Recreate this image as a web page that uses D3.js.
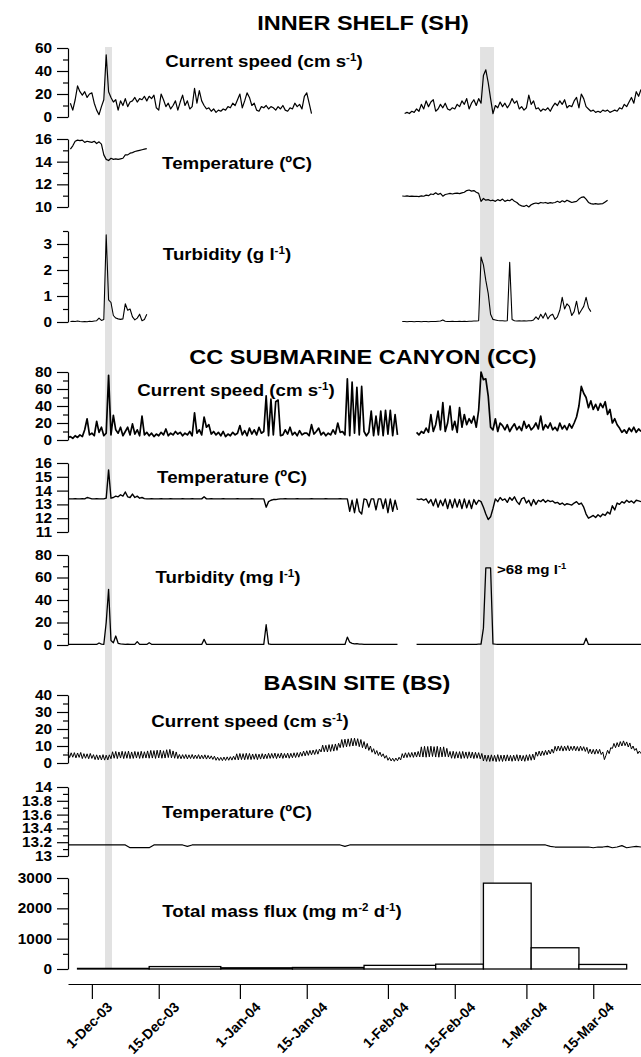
<!DOCTYPE html>
<html>
<head>
<meta charset="utf-8">
<script src="https://cdn.jsdelivr.net/npm/d3@7"></script>
<style>
  body { margin: 0; background: #fff; }
  svg { display: block; font-family: "Liberation Sans", Arial, sans-serif; font-weight: bold; }
</style>
</head>
<body>
<svg id="chart" width="641" height="1057"></svg>
<script>
// ---- sampling: start time, step in hours, then the values ----

// Inner shelf (SH)
const shSpeedA = [12,6,15,27,22,19,22,17,20,21, 12,6,2,9,15,54,22,17,13,15, 6,14,10,16,9,13,14,17,13,16,
  15,18,14,18,16,19,8,6,20,15, 9,12,7,10,14,6,13,19,10,14, 7,9,25,12,23,14,10,7,8,5,
  7,4,6,5,7,6,9,8,12,10, 15,20,8,14,21,17,10,12,6,5, 9,8,10,7,9,8,6,9,7,10, 6,5,8,7,12,9,11,7,18,21, 12,3];
const shSpeedB = [3,4,3,5,4,7,5,11,7,14, 9,13,15,5,7,11,8,12,7,6, 8,7,11,9,14,11,16,7,12,15,
  10,16,12,36,41,30,16,3,10,8, 13,9,12,8,11,16,12,14,7,9, 6,8,19,11,14,7,8,5,7,6,
  8,5,9,12,10,14,11,15,8,10, 9,14,17,8,20,16,9,7,5,6, 4,5,4,6,5,6,4,5,6,5, 8,7,11,9,13,17,12,22,18,24];
const shTempA = [15.1,15.4,15.8,15.9,15.85,15.9,15.7,15.8,15.75,15.7, 15.8,15.6,15.75,15.55,14.6,14.2,14.1,14.3,14.2,14.25,
  14.2,14.25,14.3,14.6,14.6,14.75,14.8,14.9,14.95,15.0, 15.05,15.1,15.15];
const shTempB = [10.97,10.95,10.98,10.94,10.96,10.93,10.95,10.92,10.98,10.95, 11.05,11.0,11.15,11.1,11.25,11.1,11.2,10.95,11.1,11.15,
  11.2,11.15,11.2,11.22,11.18,11.25,11.3,11.45,11.5,11.4, 11.45,11.3,11.2,10.5,10.75,10.6,10.65,10.55,10.6,10.5,
  10.65,10.55,10.7,10.5,10.6,10.55,10.7,10.5,10.4,10.2, 10.1,10.05,10.15,10.0,10.2,10.3,10.35,10.3,10.4,10.35,
  10.4,10.32,10.38,10.35,10.4,10.5,10.4,10.55,10.45,10.6, 10.5,10.4,10.45,10.5,10.7,10.85,10.9,10.7,10.4,10.3,
  10.25,10.3,10.25,10.28,10.3,10.45,10.6];
const shTurbA = [0.02,0.03,0.02,0.04,0.02,0.01,0.02,0.01,0.03,0.02, 0.04,0.05,0.15,0.06,0.1,3.35,0.85,0.75,0.25,0.15,
  0.12,0.1,0.12,0.7,0.45,0.5,0.2,0.08,0.15,0.3, 0.05,0.1,0.3];
const shTurbB = [0.02,0.02,0.01,0.02,0.02,0.01,0.02,0.02,0.01,0.02, 0.02,0.01,0.02,0.02,0.02,0.03,0.04,0.08,0.03,0.02,
  0.02,0.03,0.02,0.02,0.03,0.02,0.03,0.02,0.03,0.03, 0.04,0.04,0.05,2.5,2.2,1.6,1.1,0.3,0.1,0.08,
  0.06,0.05,0.05,0.04,0.05,2.3,0.1,0.05,0.04,0.05, 0.04,0.05,0.04,0.05,0.05,0.08,0.2,0.1,0.3,0.15,
  0.35,0.12,0.25,0.3,0.1,0.2,0.45,0.95,0.5,0.7, 0.6,0.25,0.4,0.8,0.3,0.45,0.6,0.95,0.55,0.4];

// CC submarine canyon (CC)
const ccSpeedA = [3,4,2,5,3,6,4,12,25,6, 8,5,22,9,15,5,8,76,6,29, 12,8,15,5,10,15,6,19,7,12,
  5,28,6,9,5,8,4,7,5,9, 6,13,5,8,6,10,7,9,5,8, 6,10,5,32,8,12,6,27,15,18,
  7,10,6,9,5,10,4,7,5,9, 6,8,17,6,11,5,14,7,12,6, 15,8,10,52,5,48,6,45,47,5,
  6,12,7,15,6,9,5,11,6,8, 8,5,18,7,10,14,6,9,5,8, 6,12,7,20,9,10,6,72,5,68,
  8,62,6,63,10,5,9,34,5,28, 6,34,5,35,7,35,5,30,6];
const ccSpeedB = [9,6,10,8,14,9,30,10,18,34, 12,44,10,20,40,12,22,9,38,15, 30,18,25,20,28,15,35,80,71,72,
  52,15,12,25,10,20,17,12,18,10, 15,19,12,16,11,22,14,18,12,15, 20,13,28,12,18,14,20,12,15,11,
  20,13,17,12,19,14,20,27,40,63, 55,50,38,46,36,42,35,43,38,45, 30,36,20,25,18,14,9,12,8,14, 10,15,9,13,10];
const ccTempA = [13.4,13.4,13.4,13.42,13.4,13.4,13.42,13.4,13.5,13.45, 13.4,13.4,13.42,13.4,13.4,13.4,13.45,15.5,13.45,13.5,
  13.6,13.55,13.7,13.6,13.9,13.55,13.5,13.75,13.5,13.6, 13.45,13.5,13.42,13.4,13.4,13.42,13.4,13.4,13.4,13.42,
  13.4,13.4,13.4,13.42,13.4,13.4,13.4,13.4,13.42,13.4, 13.4,13.4,13.42,13.4,13.4,13.4,13.4,13.55,13.4,13.4,
  13.42,13.4,13.4,13.4,13.4,13.42,13.4,13.4,13.4,13.4, 13.4,13.42,13.4,13.4,13.4,13.4,13.4,13.42,13.4,13.4,
  13.4,13.4,13.4,12.8,13.2,13.3,13.35,13.35,13.38,13.4, 13.4,13.42,13.4,13.4,13.4,13.4,13.42,13.4,13.4,13.4,
  13.4,13.4,13.42,13.4,13.4,13.4,13.4,13.4,13.42,13.4, 13.4,13.4,13.4,13.4,13.42,13.4,13.4,13.4,12.5,13.3,
  12.4,13.4,12.5,12.3,13.4,13.35,12.8,13.4,13.4,12.6, 13.4,13.4,12.7,13.4,12.4,13.4,12.5,13.3,12.6];
const ccTempB = [13.4,13.35,13.4,13.3,13.4,13.1,13.35,12.9,13.4,12.8, 13.3,12.9,13.4,12.7,13.35,12.75,13.4,12.8,13.35,12.7,
  13.4,12.75,13.3,12.7,13.35,13.0,13.3,13.2,12.8,12.3, 11.9,12.1,12.7,13.4,13.2,13.5,13.3,13.4,13.15,13.5,
  13.3,13.55,13.2,13.0,13.4,13.5,13.1,13.3,12.9,13.35, 13.0,13.3,13.2,13.35,13.15,13.3,13.2,13.25,13.1,13.15,
  13.0,13.1,12.95,13.05,13.0,12.95,13.1,13.2,13.0,13.1, 12.8,12.3,12.0,12.1,12.2,12.05,12.25,12.1,12.3,12.2,
  12.45,12.3,12.9,12.6,13.1,13.0,13.2,13.1,13.3,13.15, 13.25,13.1,13.3,13.25,13.2];
const ccTurbA = [0.5,0.5,0.6,0.5,0.5,0.6,0.5,0.5,0.6,0.5, 0.5,0.6,0.5,1.8,0.8,0.6,20,49.5,4,2,
  8,1.5,1,0.8,0.6,0.7,0.6,0.5,0.6,3, 0.6,0.5,0.6,0.5,2,0.6,0.5,0.6,0.5,0.6,
  0.5,0.6,0.5,0.6,0.5,0.6,0.5,0.6,0.5,0.6, 0.5,0.6,0.5,0.6,0.5,0.6,0.5,5,0.6,0.5,
  0.6,0.5,0.6,0.5,0.6,0.5,0.6,0.5,0.6,0.5, 0.6,0.5,0.6,0.5,0.6,0.5,0.6,0.5,0.6,0.5,
  0.6,0.5,0.6,18,1,0.6,0.5,0.6,0.5,0.6, 0.5,0.6,0.5,0.6,0.5,0.6,0.5,0.6,0.5,0.6,
  0.5,0.6,0.5,0.6,0.5,0.6,0.5,0.6,0.5,0.6, 0.5,0.6,0.5,0.6,0.5,0.6,0.5,7,2.5,1.5,
  1,1.2,0.8,0.7,0.6,0.5,0.6,0.5,0.6,0.5, 0.6,0.5,0.6,0.5,0.6,0.5,0.6,0.5,0.6];
const ccTurbB = [0.5,0.6,0.5,0.6,0.5,0.6,0.5,0.6,0.5,0.6, 0.5,0.6,0.5,0.6,0.5,0.6,0.5,0.6,0.5,0.6,
  0.5,0.6,0.5,0.6,0.5,0.6,0.7,0.8,15,68.5, 68.5,68.5,1,0.7,0.6,0.5,0.6,0.5,0.6,0.5,
  0.6,0.5,0.6,0.5,0.6,0.5,0.6,0.5,0.6,0.5, 0.6,0.5,0.6,0.5,0.6,0.5,0.6,0.5,0.6,0.5,
  0.6,0.5,0.6,0.5,0.6,0.5,0.6,0.5,0.6,0.5, 0.6,6,0.5,0.6,0.5,0.6,0.5,0.6,0.5,0.6,
  0.5,0.6,0.5,0.6,0.5,0.6,0.5,0.6,0.5,0.6, 0.5,0.6,0.5,0.6,0.5];

// Basin site (BS)
const bsSpeed = [6.2,3.2,6.0, 3.4,6.1,3.0, 5.9,3.3,6.2, 2.6,5.5,2.8, 5.4,2.5,5.6, 2.7,4.9,2.0, 4.8,1.9,4.6,
  1.8,4.9,1.7, 4.6,1.8,4.8, 2.5,6.6,2.8, 6.8,2.6,6.5, 2.9,6.9,2.6, 6.7,2.8,7.0, 2.6,6.5,2.7,
  6.8,2.9,6.6, 2.7,6.9,2.8, 6.6,2.9,7.1, 2.8,7.4,2.9, 7.3,2.7,7.5, 3.0,7.6,2.8, 7.2,2.9,7.8,
  3.2,8.0,3.0, 7.1,2.8,6.5, 2.6,5.0,2.5, 4.9,2.6,5.0, 2.4,4.8,2.6, 5.0,2.5,4.7, 2.6,4.9,2.4,
  4.6,2.5,4.8, 2.3,4.5,2.4, 4.2,2.1,4.0, 1.6,3.4,1.5, 3.3,1.4,3.5, 1.5,3.6,1.6, 3.7,1.7,4.0,
  1.9,5.4,1.8, 5.6,2.0,5.5, 1.9,5.7,2.1, 5.6,2.0,5.3, 2.2,5.4,2.0, 5.2,2.3,5.5, 2.4,5.3,2.6,
  5.7,2.7,5.6, 2.8,5.8,2.6, 5.5,2.9,5.9, 2.7,5.6,3.0, 5.8,2.8,5.7, 3.1,6.0,3.2, 6.1,3.4,6.3,
  4.0,7.0,4.2, 7.2,4.5,7.4, 4.8,7.6,5.0, 7.9,5.2,8.2, 6.5,10.5,6.6, 10.4,6.5,10.8, 6.8,10.9,7.0,
  11.2,7.4,11.6, 9.0,13.8,9.2, 14.0,9.5,14.2, 9.8,14.5,10.0, 14.6,10.2,14.3, 9.6,13.8,9.0, 12.6,8.2,11.5,
  7.4,10.0,6.3, 8.4,5.2,7.3, 4.4,6.4,3.8, 5.4,2.8,4.4, 1.6,3.2,1.2, 2.8,1.0,2.9, 1.3,3.4,1.8,
  5.5,3.0,6.0, 3.2,6.1,3.4, 6.2,3.3,6.4, 3.5,6.8,3.6, 9.5,3.5,9.8, 3.4,9.7,3.6, 9.9,3.8,9.6,
  3.5,9.8,3.4, 9.4,3.6,9.5, 3.7,8.6,3.5, 6.8,2.8,6.9, 2.7,6.6,2.9, 6.7,2.6,6.8, 2.8,6.5,2.7,
  6.6,2.9,6.4, 2.6,6.3,2.8, 6.1,2.4,5.6, 1.2,4.7,1.0, 4.6,0.9,4.8, 1.1,4.5,0.8, 4.9,1.0,4.6,
  0.9,4.7,1.1, 4.8,1.2,4.5, 1.0,4.6,1.3, 4.9,1.1,4.7, 1.2,4.4,1.0, 4.8,1.4,5.0, 1.6,5.2,1.9,
  6.5,4.0,7.0, 4.2,7.1,4.5, 7.4,4.8,7.6, 5.3,8.2,5.8, 9.8,7.0,10.0, 7.2,10.1,7.0, 9.9,7.3,10.2,
  7.1,9.8,7.4, 10.0,7.2,9.7, 7.0,9.9,7.3, 9.6,6.8,9.2, 5.6,8.2,5.4, 8.0,5.2,8.1, 5.5,8.0,5.0,
  6.5,2.0,4.5, 7.5,5.5,9.0, 8.5,11.5,9.0, 12.0,9.5,12.6, 10.0,13.0,10.2, 12.4,9.4,11.8, 8.2,10.0,7.4,
  8.6,5.5,7.0, 5.5];
const bsTemp = [13.16,13.16,13.16,13.16,13.16,13.16,13.16,13.16,13.16,13.16,
  13.16,13.16,13.16,13.12,13.12,13.12,13.12,13.12,13.16,13.16,
  13.16,13.16,13.16,13.16,13.16,13.14,13.16,13.16,13.16,13.16,
  13.16,13.16,13.16,13.16,13.16,13.16,13.16,13.16,13.16,13.16,
  13.16,13.16,13.16,13.16,13.16,13.16,13.16,13.16,13.16,13.16,
  13.16,13.16,13.16,13.16,13.16,13.16,13.16,13.16,13.14,13.16,
  13.16,13.16,13.16,13.16,13.16,13.16,13.16,13.16,13.16,13.16,
  13.16,13.16,13.16,13.16,13.16,13.16,13.16,13.16,13.16,13.16,
  13.16,13.16,13.16,13.16,13.16,13.16,13.16,13.16,13.16,13.16,
  13.16,13.16,13.16,13.16,13.16,13.16,13.16,13.16,13.16,13.16,
  13.16,13.14,13.13,13.13,13.13,13.13,13.13,13.13,13.13,13.13,
  13.12,13.13,13.13,13.14,13.12,13.13,13.15,13.12,13.13,13.14, 13.13];

// sediment trap: sampling interval edges and total mass flux (mg m-2 d-1)
const fluxEdges = ["2003-11-28", "2003-12-13", "2003-12-28", "2004-01-12", "2004-01-27",
  "2004-02-11", "2004-02-21", "2004-03-02", "2004-03-12", "2004-03-22"];
const fluxValues = [20, 80, 40, 50, 120, 160, 2830, 700, 150];

// storm events (shaded)
const eventStart = ["2003-12-03T18:00", "2004-02-20T07:00"];
const eventEnd = ["2003-12-05T05:00", "2004-02-23T05:00"];

// axis ticks
const dateTicks = ["2003-12-01", "2003-12-15", "2004-01-01", "2004-01-15", "2004-02-01", "2004-02-15", "2004-03-01", "2004-03-15"];
const dateLabels = ["1-Dec-03", "15-Dec-03", "1-Jan-04", "15-Jan-04", "1-Feb-04", "15-Feb-04", "1-Mar-04", "15-Mar-04"];
const shSpeedTicks = [0, 20, 40, 60];
const shTempTicks = [10, 12, 14, 16];
const shTurbTicks = [0, 1, 2, 3];
const ccSpeedTicks = [0, 20, 40, 60, 80];
const ccTempTicks = [11, 12, 13, 14, 15, 16];
const ccTurbTicks = [0, 20, 40, 60, 80];
const bsSpeedTicks = [0, 10, 20, 30, 40];
const bsTempTicks = [13, 13.2, 13.4, 13.6, 13.8, 14];
const fluxTicks = [0, 1000, 2000, 3000];

// ---- layout ----
const svg = d3.select("#chart");
const parseT = d3.utcParse("%Y-%m-%dT%H:%M");
const parseD = d3.utcParse("%Y-%m-%d");
const x = d3.scaleUtc()
  .domain([parseD("2003-11-26"), parseD("2004-03-25")])
  .range([68, 641]);

const panels = [
  { top: 48,  bottom: 117, domain: [0, 60],   minor: 10,  labels: shSpeedTicks },
  { top: 139, bottom: 207, domain: [10, 16],  minor: 1,   labels: shTempTicks },
  { top: 231, bottom: 322, domain: [0, 3.5],  minor: 0.5, labels: shTurbTicks },
  { top: 372, bottom: 440, domain: [0, 80],   minor: 10,  labels: ccSpeedTicks },
  { top: 463, bottom: 532, domain: [11, 16],  minor: 1,   labels: ccTempTicks },
  { top: 555, bottom: 645, domain: [0, 80],   minor: 10,  labels: ccTurbTicks },
  { top: 695, bottom: 763, domain: [0, 40],   minor: 5,   labels: bsSpeedTicks },
  { top: 787, bottom: 856, domain: [13, 14],  minor: 0.1, labels: bsTempTicks },
  { top: 878, bottom: 969, domain: [0, 3000], minor: 500, labels: fluxTicks }
];

// panel, start, step (h), values, stroke
const series = [
  [0, "2003-11-26T12:00", 12, shSpeedA, 1.2],
  [0, "2004-02-04T12:00", 12, shSpeedB, 1.2],
  [1, "2003-11-26T12:00", 12, shTempA, 1.2],
  [1, "2004-02-04T00:00", 12, shTempB, 1.2],
  [2, "2003-11-26T12:00", 12, shTurbA, 1.1],
  [2, "2004-02-04T00:00", 12, shTurbB, 1.1],
  [3, "2003-11-26T00:00", 12, ccSpeedA, 1.7],
  [3, "2004-02-07T00:00", 12, ccSpeedB, 1.7],
  [4, "2003-11-26T00:00", 12, ccTempA, 1.4],
  [4, "2004-02-07T00:00", 12, ccTempB, 1.4],
  [5, "2003-11-26T00:00", 12, ccTurbA, 1.3],
  [5, "2004-02-07T00:00", 12, ccTurbB, 1.3],
  [6, "2003-11-26T00:00", 8, bsSpeed, 1.0],
  [7, "2003-11-26T00:00", 24, bsTemp, 1.2]
];

panels.forEach(p => { p.y = d3.scaleLinear().domain(p.domain).range([p.bottom, p.top]); });

// shaded events behind everything
svg.selectAll("rect.event").data(eventStart).join("rect")
  .attr("class", "event")
  .attr("x", d => x(parseT(d)))
  .attr("width", (d, i) => x(parseT(eventEnd[i])) - x(parseT(d)))
  .attr("y", 47)
  .attr("height", 969 - 47)
  .attr("fill", "#e2e2e2");

// y axes
panels.forEach(p => {
  const n = Math.round((p.domain[1] - p.domain[0]) / p.minor);
  const all = d3.range(n + 1).map(i => +(p.domain[0] + i * p.minor).toFixed(4));
  const isMajor = v => p.labels.some(l => Math.abs(l - v) < 1e-6);
  const ax = svg.append("g")
    .attr("transform", "translate(68,0)")
    .call(d3.axisLeft(p.y).tickValues(all).tickSize(11).tickSizeOuter(0).tickPadding(5)
      .tickFormat(v => isMajor(v) ? String(v) : ""));
  ax.attr("font-size", 14).attr("font-family", null);
  ax.selectAll(".tick").filter(v => !isMajor(v)).select("line").attr("x2", -5);
  ax.selectAll("path, line").attr("stroke", "#000").attr("stroke-width", 1.2);
  ax.selectAll("text").attr("fill", "#000")
    .attr("x", -16 / 1.1)
    .attr("transform", "scale(1.1,1)");
});

// x axis
const tickDates = dateTicks.map(parseD);
const xAxis = svg.append("g")
  .attr("transform", "translate(0,984)")
  .call(d3.axisBottom(x).tickValues(tickDates).tickSize(15).tickSizeOuter(0)
    .tickFormat(d => dateLabels[tickDates.findIndex(t => +t === +d)]));
xAxis.attr("font-size", 14).attr("font-family", null);
xAxis.selectAll("path, line").attr("stroke", "#000").attr("stroke-width", 1.2);
xAxis.selectAll("text")
  .attr("fill", "#000")
  .attr("text-anchor", "end")
  .attr("y", null).attr("dy", null)
  .attr("transform", "translate(21,24) rotate(-45)");

// flux bars
const fy = panels[8].y;
svg.selectAll("rect.flux").data(fluxValues).join("rect")
  .attr("class", "flux")
  .attr("x", (d, i) => x(parseD(fluxEdges[i])))
  .attr("width", (d, i) => x(parseD(fluxEdges[i + 1])) - x(parseD(fluxEdges[i])))
  .attr("y", d => fy(d))
  .attr("height", d => fy(0) - fy(d))
  .attr("fill", "#fff")
  .attr("stroke", "#000")
  .attr("stroke-width", 1.3);

// time series
series.forEach(([pi, start, step, values, w]) => {
  const p = panels[pi];
  const t0 = parseT(start);
  const pts = values.map((v, i) => [x(d3.utcHour.offset(t0, i * step)), p.y(v)]);
  svg.append("path")
    .attr("d", d3.line()(pts))
    .attr("fill", "none")
    .attr("stroke", "#000")
    .attr("stroke-width", w)
    .attr("stroke-linejoin", "round");
});

// text, ^{..} marks a superscript
function label(txt, cx, y, size, sx, anchor) {
  const t = svg.append("text")
    .attr("transform", `translate(${cx},${y}) scale(${sx},1)`)
    .attr("text-anchor", anchor || "middle")
    .attr("font-size", size)
    .attr("fill", "#000");
  let up = false;
  txt.split(/(\^\{[^}]*\})/).forEach(part => {
    if (!part) return;
    if (part.startsWith("^{")) {
      t.append("tspan").attr("font-size", size * 0.62).attr("dy", -size * 0.38).text(part.slice(2, -1));
      up = true;
    } else {
      const s = t.append("tspan").text(part);
      if (up) { s.attr("dy", size * 0.38); up = false; }
    }
  });
}

label("INNER SHELF (SH)", 363, 30, 21, 1.12);
label("CC SUBMARINE CANYON (CC)", 363, 364, 21, 1.12);
label("BASIN SITE (BS)", 357, 690, 21, 1.12);

label("Current speed (cm s^{-1})", 264, 67, 17, 1.1);
label("Temperature (ºC)", 237, 169, 17, 1.1);
label("Turbidity (g l^{-1})", 227, 260, 17, 1.1);
label("Current speed (cm s^{-1})", 236, 396, 17, 1.1);
label("Temperature (ºC)", 232, 483, 17, 1.1);
label("Turbidity (mg l^{-1})", 228, 583, 17, 1.1);
label(">68 mg l^{-1}", 497, 574, 13.5, 1.12, "start");
label("Current speed (cm s^{-1})", 250, 727, 17, 1.1);
label("Temperature (ºC)", 237, 818, 17, 1.1);
label("Total mass flux (mg m^{-2} d^{-1})", 282, 917, 17, 1.1);
</script>
</body>
</html>
